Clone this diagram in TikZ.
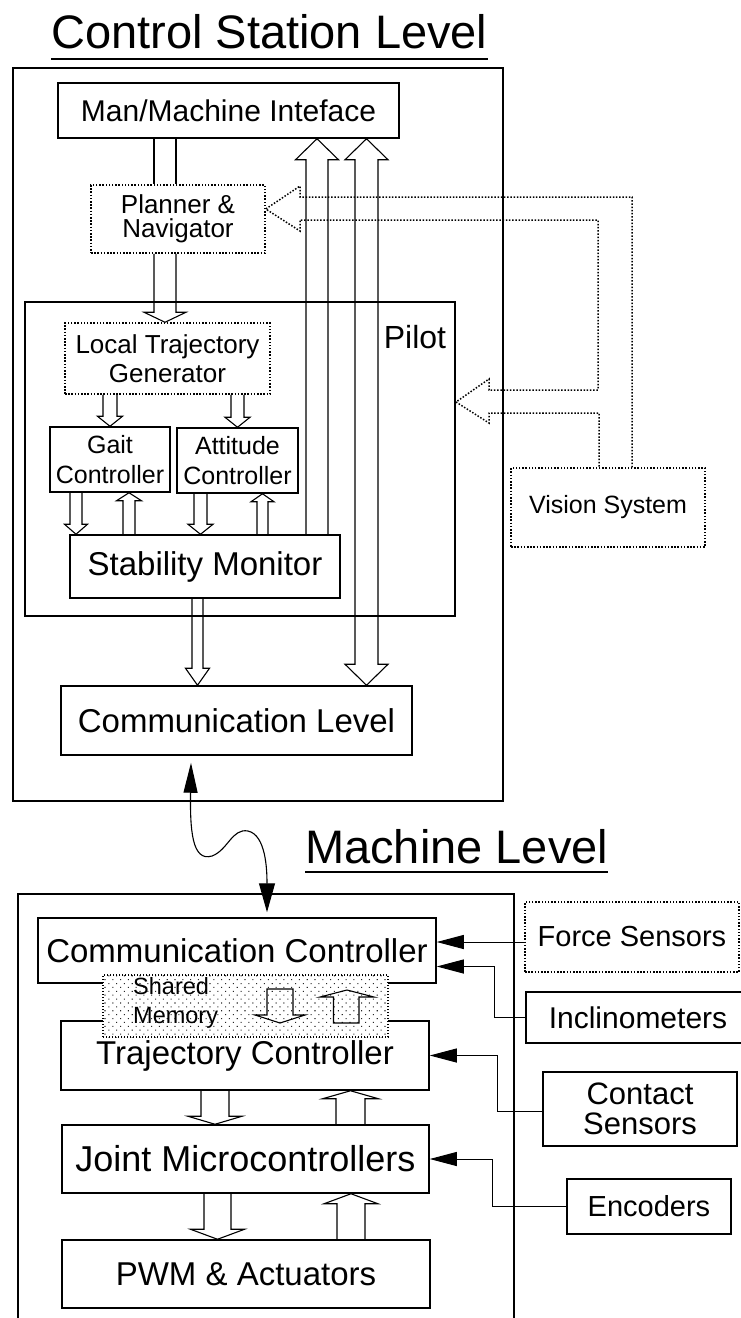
\documentclass[tikz,border=0pt]{standalone}
\usepackage{fontspec}
\setmainfont{Liberation Sans}
\usetikzlibrary{calc,patterns.meta,arrows.meta}
\newcommand\fsz[2]{\fontsize{#1pt}{#2pt}\selectfont}
% hollow block arrow: #1 x, #2 start anchor, #3 tip anchor, #4 stem half width, #5 head half width, #6 head length
\newcommand\blockarr[6]{%
  \draw[blk] let \p1=(#2), \p2=(#3), \n1={ifthenelse(\y2<\y1,\y2+#6pt,\y2-#6pt)} in
  (#1pt-#4pt,\y1) -- (#1pt-#4pt,\n1) -- (#1pt-#5pt,\n1) -- (#1pt,\y2) --
  (#1pt+#5pt,\n1) -- (#1pt+#4pt,\n1) -- (#1pt+#4pt,\y1);}
% two parallel stem lines: #1 x, #2 from, #3 to, #4 half width
\newcommand\stemlines[4]{%
  \draw[blk] let \p1=(#2), \p2=(#3) in
  (#1pt-#4pt,\y1) -- (#1pt-#4pt,\y2) (#1pt+#4pt,\y1) -- (#1pt+#4pt,\y2);}
\begin{document}
\begin{tikzpicture}[x=1pt,y=-1pt,
  box/.style={draw, line width=1.5pt, inner sep=0pt, align=center},
  dbox/.style={box, line width=1.5pt, dash pattern=on 1.5pt off 1.7pt},
  dline/.style={line width=1.5pt, dash pattern=on 1.5pt off 1.7pt, line join=miter},
  blk/.style={line width=1.1pt, line join=miter},
  sarr/.style={line width=1pt, -{Triangle[length=27pt,width=14pt]}},
  lbl/.style={inner sep=0pt}]
\useasboundingbox (0,0) rectangle (740,1318);
\fill[white] (0,0) rectangle (740,1318);

% ---------------- Control Station Level ----------------
\node[lbl, anchor=base west, font=\fsz{47}{50}] (cstitle) at (51,48) {Control Station Level};
\draw[line width=1.7pt] ([yshift=-11pt]cstitle.base west) -- ([yshift=-11pt]cstitle.base east);

\node[box, line width=1.3pt, minimum width=490pt, minimum height=733pt] (cs) at (258,434.5) {};
\node[box, line width=2pt, minimum width=430pt, minimum height=314pt] (pilot) at (240,459) {};
\node[lbl, anchor=base, font=\fsz{32}{36}] (pilotlbl) at (415,348) {Pilot};

\node[box, minimum width=341pt, minimum height=55pt, font=\fsz{30}{34}] (mmi) at (228.5,110.5) {Man/Machine Inteface};
\node[dbox, minimum width=174pt, minimum height=68pt, font=\fsz{26}{24}] (plan) at (178,219) {Planner \&\\Navigator};
\node[dbox, minimum width=205pt, minimum height=71pt, font=\fsz{26}{29}] (ltg) at (167.5,358.5) {Local Trajectory\\Generator};
\node[box, minimum width=120pt, minimum height=65pt, font=\fsz{25}{30}] (gait) at (110,459.5) {Gait\\Controller};
\node[box, minimum width=121pt, minimum height=65pt, font=\fsz{25}{30}] (att) at (237.5,460.5) {Attitude\\Controller};
\node[box, minimum width=270pt, minimum height=63pt, font=\fsz{33}{36}] (stab) at (205,566.5) {Stability Monitor};
\node[box, minimum width=351pt, minimum height=69pt, font=\fsz{33}{36}] (cl) at (236.5,720.5) {Communication Level};
\node[dbox, minimum width=194pt, minimum height=79pt, font=\fsz{25}{30}] (vision) at (608,507.5) {Vision System};

% block arrows, control station
\stemlines{165}{mmi.south}{plan.north}{11}
\blockarr{165}{plan.south}{ltg.north}{11}{21}{10}
\blockarr{317}{stab.north}{mmi.south}{11}{21.5}{21}
\draw[blk] let \p1=(mmi.south), \p2=(cl.north) in
  (366.5pt,\y1) -- (388pt,\y1-21pt) -- (378pt,\y1-21pt) -- (378pt,\y2+21pt) -- (388pt,\y2+21pt) --
  (366.5pt,\y2) -- (345pt,\y2+21pt) -- (355pt,\y2+21pt) -- (355pt,\y1-21pt) -- (345pt,\y1-21pt) -- cycle;
\blockarr{110}{ltg.south}{gait.north}{7}{12.5}{10}
\blockarr{237.5}{ltg.south}{att.north}{6.5}{12.5}{10}
\blockarr{76}{gait.south}{stab.north}{6}{11.5}{10}
\blockarr{129}{stab.north}{gait.south}{6}{12.5}{8}
\blockarr{200.5}{att.south}{stab.north}{6.5}{12.5}{10}
\blockarr{262.5}{stab.north}{att.south}{5.5}{11.5}{8}
\blockarr{197.5}{stab.south}{cl.north}{5.5}{12}{17}

% dotted vision arrows
\draw[dline] ([xshift=24pt]vision.north) |- (300,197) -- (300,186) -- ([yshift=10pt]plan.east) --
  (300,231) -- (300,220) -| (598,390) -- (489,390) -- (489,379) -- ([yshift=57pt]pilot.east) --
  (489,423) -- (489,413) -| ([xshift=-9pt]vision.north);

% ---------------- Machine Level ----------------
\node[lbl, anchor=base west, font=\fsz{47}{50}] (mltitle) at (305,863) {Machine Level};
\draw[line width=1.7pt] ([yshift=-9pt]mltitle.base west) -- ([yshift=-9pt]mltitle.base east);
\draw[line width=1.3pt] (18,1330) -- (18,894) -- (514,894) -- (514,1330);

\node[box, minimum width=398pt, minimum height=65pt, font=\fsz{33}{36}] (cc) at (237,950.5) {Communication Controller};
\node[box, minimum width=368pt, minimum height=69pt, font=\fsz{33}{36}] (traj) at (245,1055.5) {Trajectory Controller};
\node[box, minimum width=367pt, minimum height=68pt, font=\fsz{36}{40}] (joint) at (245.5,1159) {Joint Microcontrollers};
\node[box, minimum width=368pt, minimum height=68pt, font=\fsz{33}{36}] (pwm) at (246,1274) {PWM \& Actuators};

\node[draw, line width=1.3pt, dash pattern=on 1.3pt off 1.7pt, inner sep=0pt,
  preaction={fill=white}, pattern={Dots[distance=5.5pt, radius=0.75pt, angle=45]}, pattern color=black!85,
  minimum width=285pt, minimum height=62pt] (shm) at (245.5,1006) {};
\node[lbl, anchor=west, align=left, font=\fsz{23.5}{29}] (shmtxt) at (133,1003) {Shared\\Memory};
\draw[blk] (267,989) -- (267,1015) -- (255,1015) -- (280,1023) -- (305,1015) -- (293,1015) -- (293,989) -- cycle;
\draw[blk] (333.5,1023) -- (333.5,997) -- (320,997) -- (347,990) -- (374,997) -- (359,997) -- (359,1023) -- cycle;

\blockarr{215}{traj.south}{joint.north}{14}{27}{8}
\blockarr{350.5}{joint.north}{traj.south}{14.5}{28}{8}
\blockarr{217.5}{joint.south}{pwm.north}{13.5}{27}{10}
\blockarr{351}{pwm.north}{joint.south}{14}{27}{10}

\node[dbox, minimum width=214pt, minimum height=70pt, font=\fsz{29}{32}] (force) at (632,937) {Force Sensors};
\node[box, minimum width=224pt, minimum height=51pt, font=\fsz{30}{32}] (incl) at (638,1017.5) {Inclinometers};
\node[box, minimum width=194pt, minimum height=74pt, font=\fsz{31}{30}] (contact) at (640,1109) {Contact\\Sensors};
\node[box, minimum width=164pt, minimum height=55pt, font=\fsz{29}{32}] (enc) at (649,1206.5) {Encoders};

\coordinate (fw) at ([yshift=-5pt]force.west);
\draw[sarr] (fw) -- (fw -| cc.east);
\draw[sarr] (incl.west) -- ++(-31,0) |- ([yshift=-16pt]cc.east);
\coordinate (cw) at ([yshift=-2pt]contact.west);
\draw[sarr] (cw) -- ++(-45,0) |- (traj.east);
\draw[sarr] (enc.west) -- ++(-74,0) |- (joint.east);

% wavy link between levels
\coordinate (w1) at ([xshift=-45.5pt,yshift=-7pt]cl.south);
\coordinate (w2) at ([xshift=30pt,yshift=5pt]cc.north);
\draw[line width=1.1pt, {Triangle[length=30pt,width=14pt]}-{Triangle[length=29pt,width=16pt]}]
  (w1) .. controls (190,830) and (192,862) .. (212,856)
       .. controls (228,850) and (232,828) .. (248,831)
       .. controls (266,835) and (267,870) .. (w2);
\end{tikzpicture}
\end{document}
